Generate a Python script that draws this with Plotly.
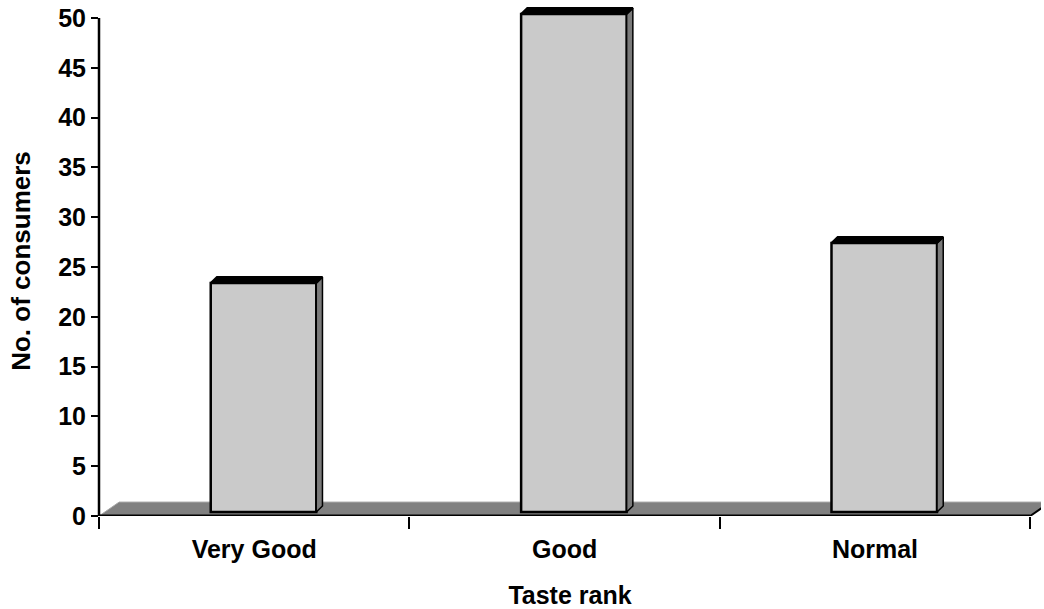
import plotly.graph_objects as go

# Taste ranking survey results
categories = ["Very Good", "Good", "Normal"]
consumers = [23, 50, 27]
y_ticks = list(range(0, 51, 5))

# Pseudo-3D geometry, in axis units
bar_width = 0.34
bar_shift = 0.03                 # columns stand partway back on the floor
bar_lift = 0.4
depth_dx, depth_dy = 0.02, 0.6   # column depth
floor_dx, floor_dy = 0.065, 1.4  # floor depth
x_max = 3.035

FONT = "Liberation Sans, Arial, sans-serif"
FS = 25
positions = [i + 0.5 + bar_shift for i in range(len(categories))]

fig = go.Figure()

# front faces of the columns (fine grey stipple)
fig.add_trace(go.Bar(
    x=positions, y=consumers, base=bar_lift, width=bar_width,
    marker=dict(
        color="white",
        pattern=dict(shape=".", fgcolor="#6a6a6a", bgcolor="#e4e4e4", size=2, solidity=0.5),
        line=dict(color="black", width=2.5),
    ),
    hovertext=categories, hoverinfo="text",
))

# side and top faces
for xc, v in zip(positions, consumers):
    x0, x1 = xc - bar_width / 2, xc + bar_width / 2
    y0, y1 = bar_lift, bar_lift + v
    fig.add_trace(go.Scatter(
        x=[x1, x1 + depth_dx, x1 + depth_dx, x1, x1],
        y=[y0, y0 + depth_dy, y1 + depth_dy, y1, y0],
        fill="toself", fillcolor="#7a7a7a", mode="lines",
        line=dict(color="black", width=1.5), hoverinfo="skip",
    ))
    fig.add_trace(go.Scatter(
        x=[x0, x1, x1 + depth_dx, x0 + depth_dx, x0],
        y=[y1, y1, y1 + depth_dy, y1 + depth_dy, y1],
        fill="toself", fillcolor="black", mode="lines",
        line=dict(color="black", width=2), hoverinfo="skip",
    ))

n = len(categories)
shapes = [
    # floor slab
    dict(type="path", layer="below", xref="x", yref="y",
         path=f"M 0,0 L {n},0 L {n + floor_dx},{floor_dy} L {floor_dx},{floor_dy} Z",
         fillcolor="#808080", line=dict(color="#a8a8a8", width=1)),
    # floor front and right edges
    dict(type="line", layer="below", xref="x", yref="y",
         x0=0, y0=0, x1=n, y1=0, line=dict(color="black", width=3)),
    dict(type="line", layer="below", xref="x", yref="y",
         x0=n, y0=0, x1=n + floor_dx, y1=floor_dy, line=dict(color="black", width=2)),
    # value axis line
    dict(type="line", layer="above", xref="paper", yref="y",
         x0=0, y0=0, x1=0, y1=max(y_ticks), line=dict(color="black", width=2.5)),
]

fig.update_layout(
    width=1044, height=609,
    margin=dict(l=99, r=3, t=6, b=93),
    paper_bgcolor="white", plot_bgcolor="white",
    showlegend=False,
    shapes=shapes,
    font=dict(family=FONT, color="black"),
)

fig.update_xaxes(
    range=[0, x_max],
    tickmode="array", tickvals=[i + 0.5 for i in range(n)], ticktext=categories,
    ticks="", showline=False, showgrid=False, zeroline=False,
    tickfont=dict(family=FONT, size=FS, weight="bold", color="black"),
    ticklabelstandoff=16,
    minor=dict(tickmode="array", tickvals=list(range(n + 1)), ticks="outside",
               ticklen=12, tickwidth=2, tickcolor="black", showgrid=False),
    title=dict(text="Taste rank", font=dict(family=FONT, size=FS, weight="bold", color="black"),
               standoff=24),
)

fig.update_yaxes(
    range=[0, 51.2],
    tickmode="array", tickvals=y_ticks,
    ticks="outside", ticklen=7, tickwidth=2, tickcolor="black",
    showline=False, showgrid=False, zeroline=False,
    tickfont=dict(family=FONT, size=FS, weight="bold", color="black"),
    title=dict(text="No. of consumers", font=dict(family=FONT, size=FS + 1, weight="bold", color="black"),
               standoff=20),
)

fig.write_html("out.html")
